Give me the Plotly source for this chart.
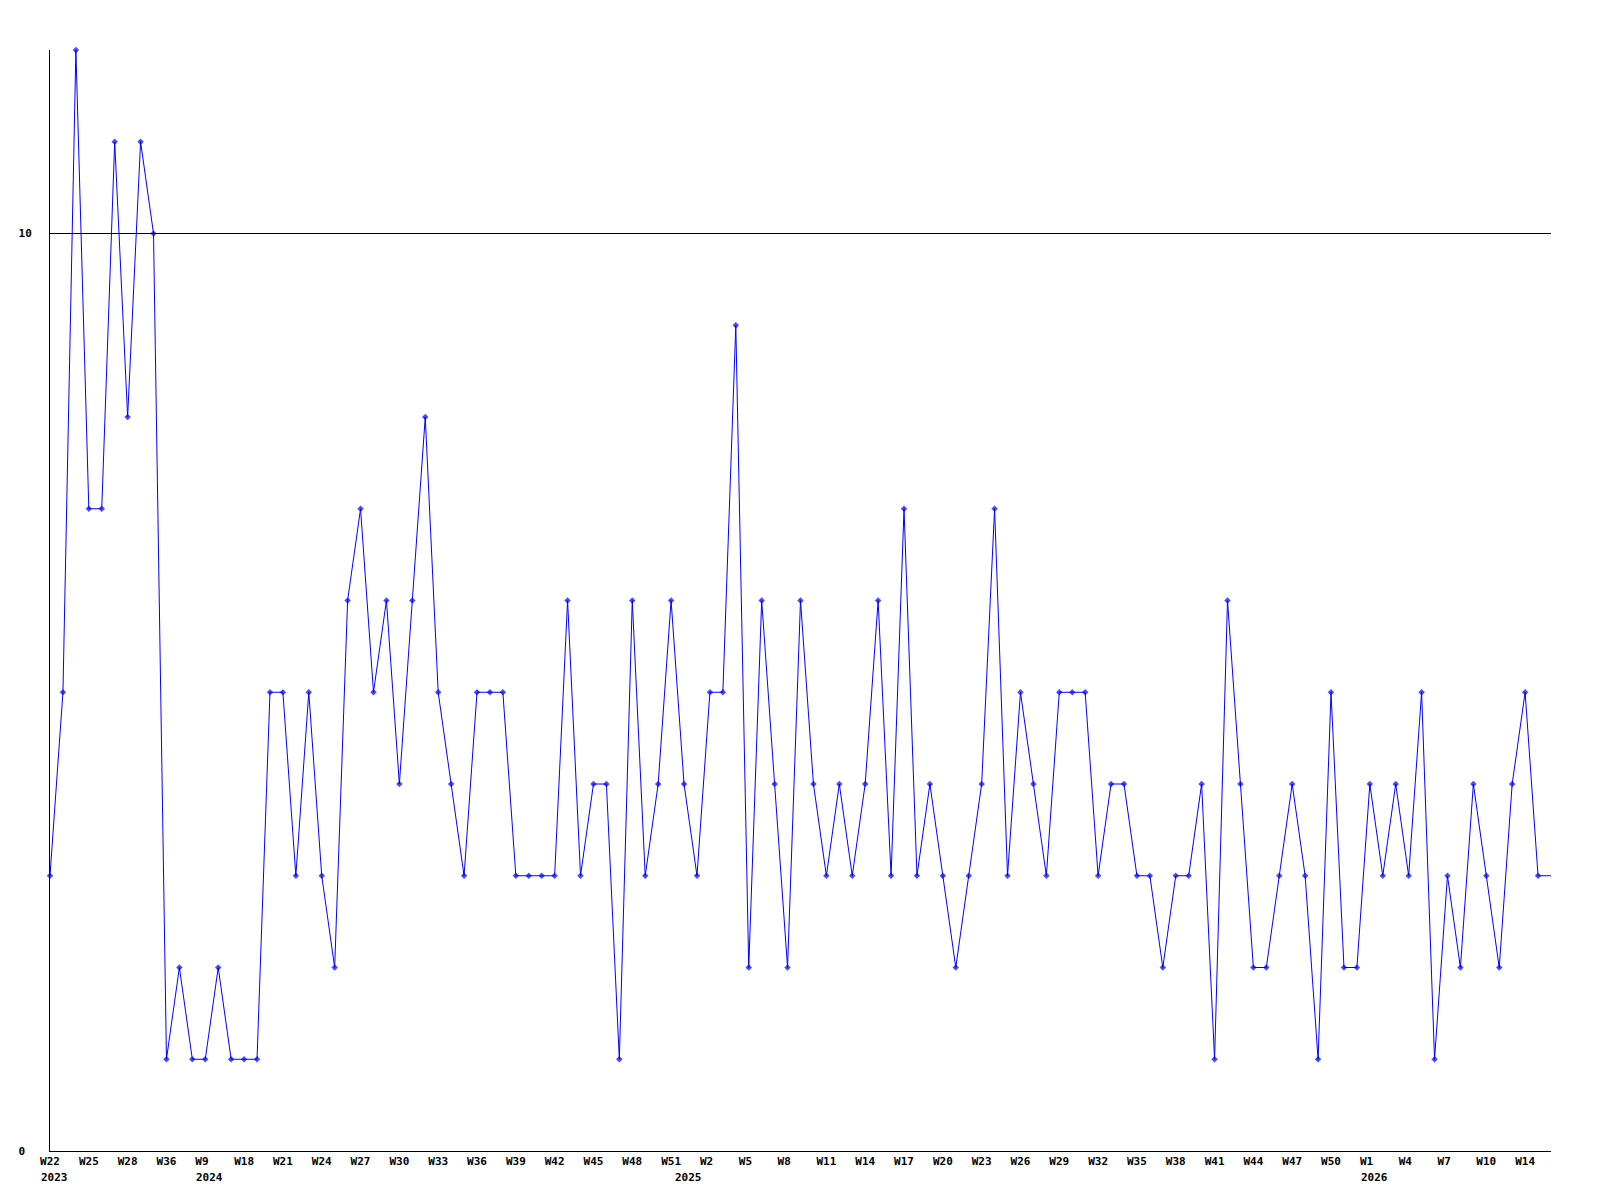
import plotly.graph_objects as go

# Week categories (year, week) in the order they appear on the axis
weeks = (
    [(2023, w) for w in [22, 23, 24, 25, 26, 27, 28, 29, 30, 36, 37, 38]]
    + [(2024, w) for w in [9, 10, 12, 18, 19, 20]]
    + [(2024, w) for w in range(21, 53)]
    + [(2025, w) for w in range(1, 53)]
    + [(2026, w) for w in [1, 2, 3, 4, 5, 6, 7, 8, 9, 10, 11, 12, 14, 15, 16]]
)

values = [
    3, 5, 12, 7, 7, 11, 8, 11, 10, 1,
    2, 1, 1, 2, 1, 1, 1, 5, 5, 3,
    5, 3, 2, 6, 7, 5, 6, 4, 6, 8,
    5, 4, 3, 5, 5, 5, 3, 3, 3, 3,
    6, 3, 4, 4, 1, 6, 3, 4, 6, 4,
    3, 5, 5, 9, 2, 6, 4, 2, 6, 4,
    3, 4, 3, 4, 6, 3, 7, 3, 4, 3,
    2, 3, 4, 7, 3, 5, 4, 3, 5, 5,
    5, 3, 4, 4, 3, 3, 2, 3, 3, 4,
    1, 6, 4, 2, 2, 3, 4, 3, 1, 5,
    2, 2, 4, 3, 4, 3, 5, 1, 3, 2,
    4, 3, 2, 4, 5, 3, 3,
]

tick_every = 3
year_label_at = {2023: (2023, 22), 2024: (2024, 9), 2025: (2024, 52), 2026: (2026, 1)}
y_ticks = [0, 10]
threshold = 10

cats = [f"{y}-W{w:02d}" for y, w in weeks]
NB = "\u00a0"


def wk_label(w):
    s = f"W{w}"
    return s + NB * (3 - len(s)) if len(s) < 3 else s


tickvals = cats[::tick_every]
ticktext = [wk_label(w) for (_, w) in weeks[::tick_every]]

marker_sizes = [5] * (len(values) - 1) + [0]

font = dict(family="DejaVu Sans Mono", size=11, color="black", weight="bold")

fig = go.Figure()
fig.add_trace(go.Scatter(
    x=cats, y=values, mode="lines+markers",
    line=dict(color="#0000ff", width=1),
    marker=dict(symbol="diamond", size=marker_sizes, color="#0000ff", line=dict(width=0)),
    showlegend=False, cliponaxis=False,
))

fig.add_shape(type="line", xref="paper", x0=0, x1=1, yref="y", y0=threshold, y1=threshold,
              line=dict(color="black", width=1), layer="below")

for yr, key in year_label_at.items():
    c = f"{key[0]}-W{key[1]:02d}"
    fig.add_annotation(x=c, xref="x", y=0, yref="paper", text=str(yr), showarrow=False,
                       xanchor="left", yanchor="top", xshift=-11, yshift=-18,
                       font=font)

fig.update_layout(
    width=1584, height=1184,
    margin=dict(l=42, r=41, t=42, b=41, pad=0),
    paper_bgcolor="white", plot_bgcolor="white",
    font=font,
    xaxis=dict(type="category", categoryorder="array", categoryarray=cats,
               range=[0, len(cats) - 1], tickvals=tickvals, ticktext=ticktext,
               showgrid=False, zeroline=False, showline=True, linecolor="black", linewidth=1,
               ticks="", tickfont=font, tickangle=0, automargin=False),
    yaxis=dict(range=[0, 12], tickvals=y_ticks, ticktext=["0" + NB, "10"],
               showgrid=False, zeroline=False, showline=True, linecolor="black", linewidth=1,
               ticks="", tickfont=font, ticklabelstandoff=15, automargin=False),
)

fig.write_html("out.html")
